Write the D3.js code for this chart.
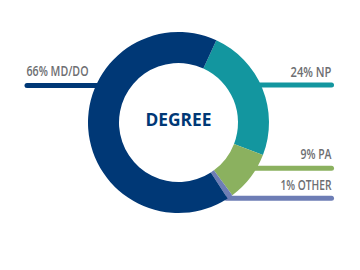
<!DOCTYPE html>
<html><head><meta charset="utf-8">
<script src="https://cdn.jsdelivr.net/npm/d3@7/dist/d3.min.js"></script>
<style>html,body{margin:0;padding:0;background:#fff;}svg{display:block;}</style>
</head><body>
<svg id="c" width="360" height="270"></svg>
<script>
const categories = ["NP", "PA", "OTHER", "MD/DO"];
const values = [24, 9, 1, 66];
const labels = ["24% NP", "9% PA", "1% OTHER", "66% MD/DO"];
const colors = ["#13969f", "#8bb15f", "#6d7db5", "#003876"];
const title = "DEGREE";

// layout
const cx = 178.5, cy = 122.5, R = 90.5, r = 59.5;
const side = ["right", "right", "right", "left"];
const lineY = [85, 168.3, 198.2, 85.5];
const textY = [76.5, 158.5, 190, 76];
const textW = [41, 31, 51, 62];
const leftX = 27, rightX = 331.5;

const svg = d3.select("#c");
const pie = d3.pie().sort(null).value(d => d)
  .startAngle(24.7 * Math.PI / 180).endAngle(24.7 * Math.PI / 180 + 2 * Math.PI);
const arcs = pie(values);
const arc = d3.arc().innerRadius(r).outerRadius(R);

const g = svg.append("g");
// leader lines behind donut
values.forEach((v, i) => {
  const dy = lineY[i] - cy;
  const dx = Math.sqrt(Math.max(0, R * R - dy * dy));
  const x1 = side[i] === "right" ? cx + dx - 2 : leftX;
  const x2 = side[i] === "right" ? rightX : cx - dx + 2;
  g.append("line").attr("x1", x1).attr("x2", x2).attr("y1", lineY[i]).attr("y2", lineY[i])
    .attr("stroke", colors[i]).attr("stroke-width", 5).attr("stroke-linecap", "round");
  g.append("text")
    .attr("x", side[i] === "right" ? rightX : leftX - 0.5)
    .attr("y", textY[i])
    .attr("text-anchor", side[i] === "right" ? "end" : "start")
    .attr("font-family", "Open Sans, sans-serif").attr("font-weight", 600)
    .attr("font-size", 13.5).attr("fill", "#6d6e71")
    .attr("textLength", textW[i]).attr("lengthAdjust", "spacingAndGlyphs")
    .text(labels[i]);
});

g.append("g").attr("transform", `translate(${cx},${cy})`)
  .selectAll("path").data(arcs).join("path")
  .attr("d", arc).attr("fill", (d, i) => colors[i]);

g.append("text").attr("x", cx).attr("y", 126).attr("text-anchor", "middle")
  .attr("font-family", "Open Sans, sans-serif").attr("font-weight", 700)
  .attr("font-size", 17.5).attr("fill", "#003876")
  .attr("textLength", 66).attr("lengthAdjust", "spacingAndGlyphs")
  .text(title);
</script>
</body></html>
